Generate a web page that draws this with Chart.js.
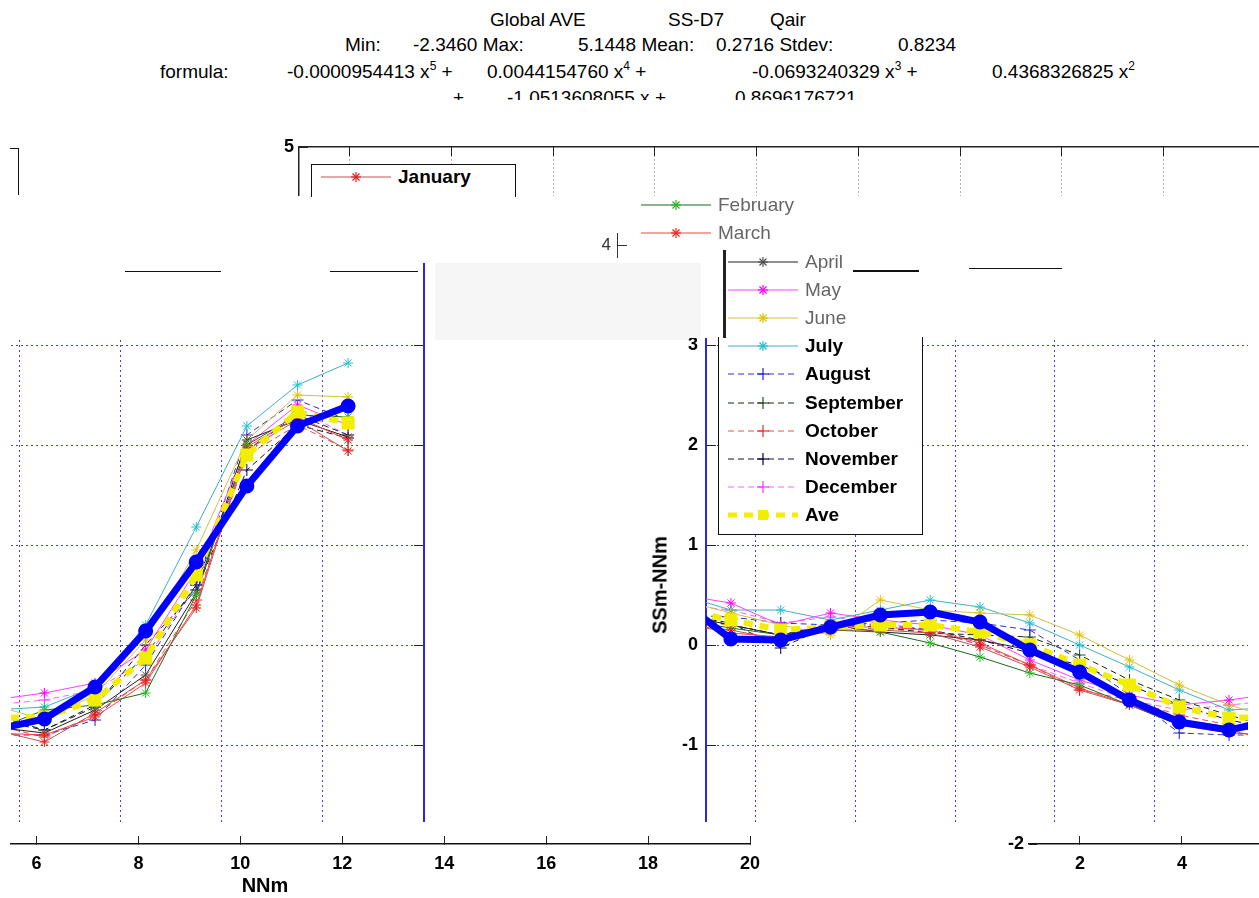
<!DOCTYPE html>
<html>
<head>
<meta charset="utf-8">
<title>Global AVE SS-D7 Qair</title>
<script src="https://cdn.jsdelivr.net/npm/chart.js@4.4.1/dist/chart.umd.min.js"></script>
<style>
  body { margin: 0; background: #fff; }
  #page { position: relative; width: 1259px; height: 898px; overflow: hidden; background: #fff; font-family: 'Liberation Sans', Arial, sans-serif; }
  #page canvas { position: absolute; left: 0; top: 0; }
  .tt { position: absolute; font-size: 19px; white-space: pre; line-height: 20px; color: #000; }
  .tt sup { font-size: 12px; vertical-align: 8px; line-height: 0; }
  .ln { position: absolute; background: #111; }
  .box { position: absolute; background: #fff; border-color: #111; border-style: solid; border-width: 0; }
  .lg-row { position: absolute; height: 28px; width: 200px; }
  .lg-row svg { position: absolute; left: 0; top: 0; }
  .lg-row span { position: absolute; left: 77px; top: 4px; font-size: 19px; line-height: 20px; white-space: nowrap; }
  .lbl { position: absolute; font-size: 20px; font-weight: bold; white-space: nowrap; transform: translate(-50%, -50%); }
</style>
</head>
<body>
<div id="page">
  <!-- title -->
  <div class="tt" style="left:490px;top:10px">Global AVE</div>
  <div class="tt" style="left:668px;top:10px">SS-D7</div>
  <div class="tt" style="left:770px;top:10px">Qair</div>

  <div class="tt" style="left:345px;top:35px">Min:</div>
  <div class="tt" style="left:413px;top:35px">-2.3460 Max:</div>
  <div class="tt" style="left:578px;top:35px">5.1448 Mean:</div>
  <div class="tt" style="left:716px;top:35px">0.2716 Stdev:</div>
  <div class="tt" style="left:898px;top:35px">0.8234</div>

  <div class="tt" style="left:160px;top:62px">formula:</div>
  <div class="tt" style="left:287px;top:62px">-0.0000954413 x<sup>5</sup> +</div>
  <div class="tt" style="left:487px;top:62px">0.0044154760 x<sup>4</sup> +</div>
  <div class="tt" style="left:752px;top:62px">-0.0693240329 x<sup>3</sup> +</div>
  <div class="tt" style="left:992px;top:62px">0.4368326825 x<sup>2</sup></div>

  <div style="position:absolute;left:0;top:86px;width:1259px;height:14px;overflow:hidden">
    <div class="tt" style="left:453px;top:2px">+</div>
    <div class="tt" style="left:507px;top:2px">-1.0513608055 x +</div>
    <div class="tt" style="left:735px;top:2px">0.8696176721</div>
  </div>

  <div style="position:absolute;left:435px;top:263px;width:266px;height:77px;background:#f6f6f6"></div>

  <canvas id="cTop" width="1259" height="898"></canvas>
  <canvas id="c4" width="1259" height="898"></canvas>
  <canvas id="cL" width="1259" height="898"></canvas>
  <canvas id="cR" width="1259" height="898"></canvas>
  <canvas id="cB" width="1259" height="898"></canvas>
  <canvas id="cBR" width="1259" height="898"></canvas>

  <!-- loose line fragments -->
  <div class="ln" style="left:10px;top:148px;width:9px;height:1px"></div>
  <div class="ln" style="left:18px;top:148px;width:1px;height:47px"></div>
  <div class="ln" style="left:125px;top:271px;width:96px;height:1px"></div>
  <div class="ln" style="left:330px;top:271px;width:88px;height:1px"></div>
  <div class="ln" style="left:969px;top:268px;width:93px;height:1px"></div>

  <!-- legend boxes -->
  <div class="box" style="left:311px;top:164px;width:203px;height:32px;border-width:1px 1px 0 1px"></div>
  <div class="box" style="left:718px;top:337px;width:203px;height:197px;border-width:0 1px 1px 1px"></div>
  <div class="ln" style="left:723px;top:250px;width:3px;height:88px;background:#222"></div>
  <div class="ln" style="left:853px;top:270px;width:66px;height:2px"></div>
  <div id="legend"></div>

  <div class="lbl" style="left:265px;top:885px">NNm</div>
  <div class="lbl" style="left:660px;top:585px;transform:translate(-50%,-50%) rotate(-90deg)">SSm-NNm</div>
</div>

<script>
// NNm bins (centres) and SSm-NNm values per month
const bins = [0.5, 1.5, 2.5, 3.5, 4.5, 5.5, 6.5, 7.5, 8.5, 9.5, 10.5, 11.5, 12.5, 13.5, 14.5, 15.5, 16.5, 17.5, 18.5];
const monthNames = ['January', 'February', 'March', 'April', 'May', 'June', 'July',
                    'August', 'September', 'October', 'November', 'December'];

const janVals = [0.20, 0.15, 0.05, 0.15, 0.15, 0.12, -0.02, -0.22, -0.45, -0.60, -0.78, -0.85, -0.97, -0.68, -0.35, 0.37, 1.95, 2.25, 1.94];
const febVals = [0.25, 0.17, 0.10, 0.15, 0.13, 0.02, -0.12, -0.28, -0.40, -0.60, -0.80, -0.85, -0.65, -0.60, -0.48, 0.50, 2.00, 2.30, 2.28];
const marVals = [0.22, 0.12, 0.08, 0.18, 0.18, 0.15, 0.02, -0.20, -0.43, -0.60, -0.80, -0.88, -0.90, -0.72, -0.38, 0.40, 1.98, 2.28, 2.05];
const aprVals = [0.30, 0.20, 0.10, 0.20, 0.13, 0.10, 0.05, -0.05, -0.30, -0.55, -0.75, -0.82, -0.88, -0.65, -0.30, 0.52, 2.05, 2.25, 2.08];
const mayVals = [0.50, 0.42, 0.20, 0.32, 0.25, 0.20, 0.10, -0.15, -0.35, -0.50, -0.60, -0.55, -0.48, -0.38, -0.05, 0.75, 2.00, 2.40, 2.20];
const junVals = [0.45, 0.32, 0.20, 0.10, 0.45, 0.35, 0.32, 0.30, 0.10, -0.15, -0.40, -0.60, -0.75, -0.50, 0.05, 0.95, 2.05, 2.50, 2.48];
const julVals = [0.50, 0.35, 0.35, 0.25, 0.35, 0.45, 0.38, 0.22, 0.00, -0.22, -0.45, -0.65, -0.62, -0.42, 0.20, 1.18, 2.19, 2.60, 2.82];
const augVals = [0.30, 0.28, 0.22, 0.20, 0.22, 0.25, 0.22, 0.15, -0.15, -0.50, -0.88, -0.90, -0.90, -0.75, -0.20, 0.60, 2.10, 2.45, 2.25];
const sepVals = [0.30, 0.20, 0.10, 0.20, 0.18, 0.12, 0.10, 0.08, -0.10, -0.35, -0.55, -0.70, -0.85, -0.60, -0.10, 0.60, 1.95, 2.30, 2.10];
const octVals = [0.25, 0.20, 0.10, 0.22, 0.15, 0.15, 0.00, -0.20, -0.45, -0.55, -0.70, -0.80, -0.92, -0.70, -0.35, 0.45, 1.90, 2.20, 1.95];
const novVals = [0.30, 0.22, -0.03, 0.20, 0.20, 0.15, 0.05, -0.08, -0.20, -0.40, -0.60, -0.75, -0.85, -0.62, 0.00, 0.55, 1.75, 2.20, 2.07];
const decVals = [0.40, 0.35, 0.22, 0.28, 0.22, 0.15, 0.00, -0.20, -0.38, -0.55, -0.65, -0.60, -0.55, -0.45, -0.15, 0.60, 1.90, 2.35, 2.10];
const aveVals = [0.35, 0.25, 0.15, 0.18, 0.20, 0.20, 0.13, 0.00, -0.20, -0.40, -0.62, -0.73, -0.72, -0.55, -0.13, 0.70, 1.90, 2.33, 2.22];
const fitVals = [0.44, 0.06, 0.05, 0.18, 0.30, 0.33, 0.23, -0.05, -0.27, -0.55, -0.77, -0.85, -0.74, -0.42, 0.14, 0.83, 1.59, 2.19, 2.39];

const monthVals = [janVals, febVals, marVals, aprVals, mayVals, junVals, julVals,
                   augVals, sepVals, octVals, novVals, decVals];

// line styles, matlab-ish
const monthStyle = [
  { line: '#c85050', mark: '#e02020', dash: [], pt: 'star' },
  { line: '#1a6a1a', mark: '#22bb22', dash: [], pt: 'star' },
  { line: '#ff4040', mark: '#ff2020', dash: [], pt: 'star' },
  { line: '#202020', mark: '#505050', dash: [], pt: 'star' },
  { line: '#ff40ff', mark: '#ff00ff', dash: [], pt: 'star' },
  { line: '#d0c040', mark: '#e0c000', dash: [], pt: 'star' },
  { line: '#40b0c0', mark: '#20c0d0', dash: [], pt: 'star' },
  { line: '#3030c0', mark: '#2020d0', dash: [6, 4], pt: 'cross' },
  { line: '#103010', mark: '#205020', dash: [6, 4], pt: 'cross' },
  { line: '#e05050', mark: '#e03030', dash: [6, 4], pt: 'cross' },
  { line: '#101030', mark: '#000040', dash: [6, 4], pt: 'cross' },
  { line: '#ff60ff', mark: '#ff30ff', dash: [6, 4], pt: 'cross' }
];
const aveColor = '#f2ee00';
const fitColor = '#0000ff';
const gridColor = 'rgba(45,45,215,0.9)';
const edgeBlue = '#2a2ad0';

Chart.defaults.font.family = "'Liberation Sans', Arial, sans-serif";

function makeDatasets() {
  const sets = monthNames.map((name, i) => ({
    label: name,
    data: bins.map((x, k) => ({ x: x, y: monthVals[i][k] })),
    borderColor: monthStyle[i].line,
    borderWidth: 1,
    borderDash: monthStyle[i].dash,
    pointStyle: monthStyle[i].pt,
    pointRadius: monthStyle[i].pt === 'star' ? 5 : 6,
    pointBorderColor: monthStyle[i].mark,
    pointBorderWidth: 1,
    pointBackgroundColor: 'transparent',
    order: 3 + i
  }));
  sets.push({
    label: 'Ave',
    data: bins.map((x, k) => ({ x: x, y: aveVals[k] })),
    borderColor: aveColor, borderWidth: 6, borderDash: [9, 7],
    pointStyle: 'rect', pointRadius: 5,
    pointBackgroundColor: aveColor, pointBorderColor: aveColor,
    order: 2
  });
  sets.push({
    label: 'fit',
    data: bins.map((x, k) => ({ x: x, y: fitVals[k] })),
    borderColor: fitColor, borderWidth: 7,
    pointStyle: 'circle', pointRadius: 4,
    pointBackgroundColor: fitColor, pointBorderColor: fitColor,
    order: 1
  });
  return sets;
}

const evenOnly = s => { s.ticks = s.ticks.filter(t => Math.abs(t.value % 2) < 1e-9); };
const tickFont = { size: 18, weight: 'bold' };

function baseOptions(pad, scales) {
  return {
    responsive: false, animation: false, devicePixelRatio: 1, events: [],
    layout: { padding: pad },
    plugins: { legend: { display: false }, tooltip: { enabled: false } },
    elements: { line: { tension: 0 } },
    scales: scales
  };
}

function layer(id, clip) {
  const c = document.getElementById(id);
  c.style.clipPath = clip;
  return c;
}

// left tile: NNm 12..20
new Chart(layer('cL', 'polygon(10px 340px, 421px 340px, 421px 263px, 433px 263px, 433px 822px, 10px 822px)'), {
  type: 'line',
  data: { datasets: makeDatasets() },
  options: baseOptions({ left: 10, right: 1259 - 424, top: 145, bottom: 898 - 845 }, {
    x: {
      type: 'linear', min: 11.84, max: 20, position: 'bottom',
      afterFit: s => { s.height = 0; }, afterBuildTicks: evenOnly,
      ticks: { display: false, stepSize: 2, includeBounds: false },
      grid: { color: gridColor, drawTicks: false },
      border: { display: false, dash: [2, 3] }
    },
    y: {
      min: -2, max: 5, position: 'right',
      afterFit: s => { s.width = 0; },
      ticks: { display: false, stepSize: 1 },
      grid: { color: gridColor, tickLength: -10, tickColor: '#222' },
      border: { color: edgeBlue, width: 2, dash: [2, 3] }
    }
  })
});

// right tile: NNm 1..11.9
const chartR = new Chart(layer('cR', 'polygon(630px 338px, 1259px 338px, 1259px 822px, 630px 822px)'), {
  type: 'line',
  data: { datasets: makeDatasets() },
  options: baseOptions({ left: 706 - 70, right: 0, top: 145, bottom: 898 - 845 }, {
    x: {
      type: 'linear', min: 1.0, max: 11.88, position: 'bottom',
      afterFit: s => { s.height = 0; }, afterBuildTicks: evenOnly,
      ticks: { display: false, stepSize: 2, includeBounds: false },
      grid: { color: gridColor, drawTicks: false },
      border: { display: false, dash: [2, 3] }
    },
    y: {
      min: -2, max: 5, position: 'left',
      afterFit: s => { s.width = 70; },
      ticks: { stepSize: 1, padding: 18, color: '#000', font: tickFont },
      grid: { color: gridColor, tickLength: -10, tickColor: '#222' },
      border: { color: edgeBlue, width: 2, dash: [2, 3] }
    }
  })
});

// top edge of the axes box
new Chart(layer('cTop', 'polygon(270px 138px, 1259px 138px, 1259px 196px, 270px 196px)'), {
  type: 'line',
  data: { datasets: [] },
  options: baseOptions({ left: 299 - 40, right: 0, top: 147, bottom: 898 - 847 }, {
    x: {
      type: 'linear', min: 1.0, max: 19.88, position: 'top',
      afterFit: s => { s.height = 0; }, afterBuildTicks: evenOnly,
      ticks: { display: false, stepSize: 2, includeBounds: false },
      grid: { color: 'rgba(60,60,60,0.8)', tickLength: -9, tickColor: '#222' },
      border: { color: '#222', width: 1.5, dash: [1, 3] }
    },
    y: {
      min: -2, max: 5, position: 'left',
      afterFit: s => { s.width = 40; },
      ticks: { stepSize: 1, padding: 14, color: '#000', font: tickFont },
      grid: { drawOnChartArea: false, tickLength: -9, color: '#222' },
      border: { color: '#222', width: 1.5 }
    }
  })
});

// stray "4" tick fragment
new Chart(layer('c4', 'polygon(590px 233px, 642px 233px, 642px 258px, 590px 258px)'), {
  type: 'line',
  data: { datasets: [] },
  options: baseOptions({ left: 617 - 40, right: 1259 - 680, top: 145, bottom: 898 - 845 }, {
    x: { type: 'linear', min: 0, max: 1, display: false },
    y: {
      min: -2, max: 5, position: 'left',
      afterFit: s => { s.width = 40; },
      ticks: { stepSize: 1, padding: 16, color: '#333', font: { size: 17 } },
      grid: { drawOnChartArea: false, tickLength: -10, color: '#333' },
      border: { color: '#333', width: 1 }
    }
  })
});

// bottom axis, NNm 5.5..20
new Chart(layer('cB', 'polygon(0 822px, 770px 822px, 770px 898px, 0 898px)'), {
  type: 'line',
  data: { datasets: [] },
  options: baseOptions({ left: 11, right: 1259 - 750, top: 144, bottom: 0 }, {
    x: {
      type: 'linear', min: 5.5, max: 20, position: 'bottom',
      afterFit: s => { s.height = 898 - 844; }, afterBuildTicks: evenOnly,
      ticks: { stepSize: 2, padding: 17, color: '#000', font: tickFont, maxRotation: 0, includeBounds: false },
      grid: { drawOnChartArea: false, tickLength: -8, color: '#222' },
      border: { color: '#111', width: 1.5 }
    },
    y: { min: -2, max: 5, display: false }
  })
});

// bottom-right fragment with -2
new Chart(layer('cBR', 'polygon(992px 830px, 1259px 830px, 1259px 898px, 992px 898px)'), {
  type: 'line',
  data: { datasets: [] },
  options: baseOptions({ left: 1029 - 40, right: 0, top: 144, bottom: 0 }, {
    x: {
      type: 'linear', min: 1.0, max: 5.51, position: 'bottom',
      afterFit: s => { s.height = 898 - 844; }, afterBuildTicks: evenOnly,
      ticks: { stepSize: 2, padding: 17, color: '#000', font: tickFont, maxRotation: 0, includeBounds: false },
      grid: { drawOnChartArea: false, tickLength: -8, color: '#222' },
      border: { color: '#111', width: 1.5 }
    },
    y: {
      min: -2, max: 5, position: 'left',
      afterFit: s => { s.width = 40; },
      ticks: { stepSize: 1, padding: 13, color: '#000', font: tickFont },
      grid: { drawOnChartArea: false, tickLength: -8, color: '#222' },
      border: { display: false }
    }
  })
});

// legend, built from the datasets (rows shifted like the picture)
const rowShift = [-407, -87, -87, 0, 0, 0, 0, 0, 0, 0, 0, 0, 0];
const faded = [1, 2, 3, 4, 5];

function sampleSvg(ds) {
  const c = ds.borderColor, m = ds.pointBorderColor;
  const dash = (ds.borderDash || []).join(' ');
  let s = '<svg width="72" height="28"><line x1="0" y1="14" x2="70" y2="14" stroke="' + c +
          '" stroke-width="' + Math.min(ds.borderWidth, 5) + '" stroke-dasharray="' + dash + '"/>';
  if (ds.pointStyle === 'star') {
    s += '<g stroke="' + m + '" stroke-width="1.2"><line x1="30" y1="14" x2="40" y2="14"/><line x1="35" y1="9" x2="35" y2="19"/>' +
         '<line x1="31.5" y1="10.5" x2="38.5" y2="17.5"/><line x1="31.5" y1="17.5" x2="38.5" y2="10.5"/></g>';
  } else if (ds.pointStyle === 'cross') {
    s += '<g stroke="' + m + '" stroke-width="1.2"><line x1="29" y1="14" x2="41" y2="14"/><line x1="35" y1="8" x2="35" y2="20"/></g>';
  } else if (ds.pointStyle === 'rect') {
    s += '<rect x="30" y="9" width="10" height="10" fill="' + m + '"/>';
  }
  return s + '</svg>';
}

const legendEl = document.getElementById('legend');
chartR.data.datasets.filter(ds => ds.label !== 'fit').forEach((ds, i) => {
  const row = document.createElement('div');
  row.className = 'lg-row';
  row.style.left = (728 + rowShift[i]) + 'px';
  row.style.top = Math.round(177 + 28.2 * i - 14) + 'px';
  const span = document.createElement('span');
  span.textContent = ds.label;
  if (faded.includes(i)) { span.style.color = '#666'; } else { span.style.fontWeight = 'bold'; }
  row.innerHTML = sampleSvg(ds);
  row.appendChild(span);
  legendEl.appendChild(row);
});
</script>
</body>
</html>
